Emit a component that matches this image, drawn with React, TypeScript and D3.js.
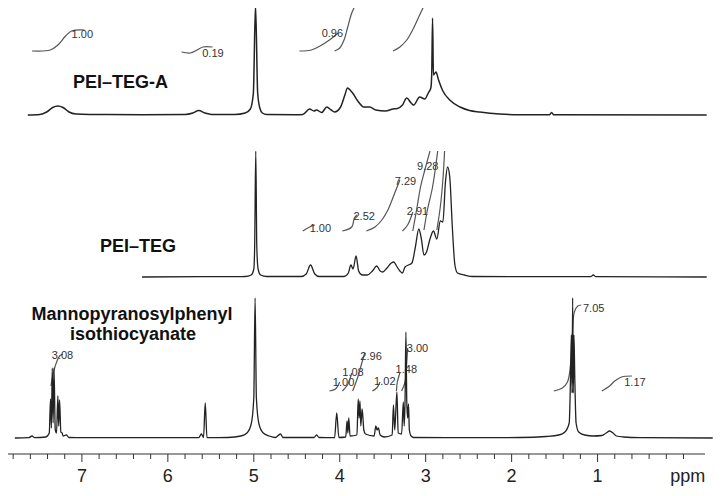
import React from 'react';
import * as d3 from 'd3';

// chemical shift axis
const MAJOR_TICKS = [7, 6, 5, 4, 3, 2, 1];
const MINOR_TICKS = d3.range(0, 40).map(i => +(i * 0.2).toFixed(1));

// spectra: [ppm, intensity above baseline]
const TEG_A_SPECTRUM: [number, number][] = [
  [7.63, 0], [7.49, 0.5], [7.41, 3], [7.34, 7.5], [7.28, 9], [7.22, 7.5], [7.15, 3], [7.07, 1], [6.91, 0.5],
  [6.3, 0.3], [5.8, 0.5], [5.71, 2], [5.64, 4.5], [5.57, 2], [5.49, 0.5], [5.22, 0.5], [5.1, 2], [5.04, 6],
  [5.005, 22], [4.98, 110], [4.955, 22], [4.93, 7], [4.9, 2], [4.85, 0.5], [4.5, 0.3],
  [4.43, 0.5], [4.35, 6], [4.3, 4], [4.27, 5], [4.21, 2.5], [4.15, 8], [4.1, 5], [4.06, 3], [3.99, 8],
  [3.94, 20], [3.91, 27], [3.87, 24], [3.85, 22], [3.79, 14], [3.72, 8], [3.65, 8], [3.58, 5], [3.47, 4],
  [3.38, 6], [3.33, 6.5], [3.27, 10], [3.22, 17], [3.17, 12], [3.14, 10], [3.07, 18], [3.01, 16], [2.97, 22],
  [2.94, 27], [2.93, 40], [2.92, 97], [2.91, 40], [2.88, 43], [2.85, 35], [2.8, 24], [2.72, 15], [2.6, 8],
  [2.49, 4.5], [2.37, 3], [2.14, 1], [1.91, 0.3], [1.56, 0.2], [1.535, 2.5], [1.51, 0.2], [-0.27, 0]
];

const TEG_SPECTRUM: [number, number][] = [
  [6.3, 0], [5.6, 0.3], [5.1, 0.5], [5.03, 2], [5.0, 8], [4.99, 30], [4.977, 126], [4.965, 30], [4.95, 8],
  [4.92, 2], [4.85, 0.5], [4.45, 0.5], [4.39, 3], [4.34, 12], [4.29, 3], [4.24, 0.5], [3.95, 0.5], [3.9, 4],
  [3.87, 12], [3.845, 8], [3.81, 21], [3.78, 6], [3.74, 2], [3.68, 2], [3.62, 6], [3.57, 11], [3.53, 6],
  [3.5, 5], [3.45, 9], [3.4, 14], [3.37, 15], [3.34, 11], [3.3, 6], [3.27, 4], [3.24, 10], [3.2, 12],
  [3.16, 14], [3.12, 30], [3.08, 48], [3.05, 38], [3.02, 22], [2.99, 25], [2.95, 38], [2.91, 46], [2.87, 38],
  [2.83, 56], [2.8, 55], [2.77, 95], [2.745, 110], [2.72, 100], [2.69, 50], [2.66, 12], [2.63, 4],
  [2.55, 2], [2.45, 0.5], [1.08, 0.3], [1.05, 2], [1.02, 0.3], [-0.27, 0]
];

const MANNO_SPECTRUM: [number, number][] = [
  [7.78, 0], [7.62, 0.3], [7.58, 2], [7.55, 0.3], [7.42, 1], [7.38, 5], [7.365, 39], [7.355, 10], [7.345, 70],
  [7.335, 15], [7.325, 70], [7.31, 8], [7.295, 5], [7.28, 42], [7.27, 12], [7.26, 38], [7.245, 6], [7.23, 5],
  [7.22, 2], [7.18, 3], [7.15, 0.5], [7.0, 0.3], [5.64, 0.3], [5.61, 4], [5.585, 0.5], [5.565, 35], [5.545, 0.3],
  [5.3, 0.5], [5.15, 2], [5.08, 5], [5.03, 14], [5.0, 40], [4.985, 140], [4.97, 40], [4.94, 14], [4.89, 5],
  [4.82, 2], [4.75, 0.5], [4.69, 4], [4.66, 0.5], [4.3, 0.5], [4.27, 3], [4.24, 0.5], [4.06, 0.3], [4.035, 25],
  [4.01, 0.5], [3.93, 1], [3.915, 17], [3.905, 5], [3.895, 20], [3.88, 2], [3.8, 3], [3.785, 39], [3.775, 20],
  [3.765, 37], [3.755, 12], [3.74, 29], [3.73, 20], [3.72, 8], [3.7, 4], [3.6, 2], [3.58, 12], [3.565, 8],
  [3.55, 10], [3.53, 3], [3.48, 1], [3.39, 3], [3.375, 33], [3.36, 8], [3.335, 46], [3.32, 5], [3.28, 4],
  [3.26, 36], [3.25, 12], [3.24, 38], [3.23, 106], [3.22, 36], [3.21, 20], [3.2, 34], [3.19, 8], [3.17, 2],
  [3.14, 0.5], [2.5, 0.3], [1.9, 0.5], [1.6, 1.5], [1.45, 3], [1.38, 6], [1.33, 15], [1.315, 60], [1.305, 103],
  [1.297, 45], [1.29, 140], [1.283, 45], [1.275, 103], [1.265, 60], [1.25, 15], [1.22, 6], [1.15, 3],
  [1.05, 2], [0.95, 2.5], [0.9, 5], [0.86, 7], [0.82, 5], [0.78, 2], [0.7, 1], [0.5, 0.3], [-0.34, 0]
];

// integral traces: label, curve points [ppm, intensity], label anchor [ppm, intensity]
type Integral = { label: string; pts: [number, number][]; at: [number, number] };

const TEG_A_INTEGRALS: Integral[] = [
  { label: '1.00', pts: [[7.58, 64], [7.37, 65], [7.28, 70], [7.19, 79], [7.12, 84], [6.97, 85]], at: [7.12, 77] },
  { label: '0.19', pts: [[5.84, 63], [5.74, 62], [5.66, 65], [5.59, 68], [5.48, 68]], at: [5.6, 58] },
  { label: '0.96', pts: [[4.47, 64], [4.33, 65], [4.23, 69], [4.12, 75], [4.02, 82]], at: [4.21, 78] },
  { label: '', pts: [[4.06, 64], [4.0, 67], [3.95, 75], [3.91, 87], [3.86, 102], [3.8, 113]], at: [0, 0] },
  { label: '', pts: [[3.38, 64], [3.3, 68], [3.22, 75], [3.14, 87], [3.07, 100], [3.0, 113]], at: [0, 0] }
];

const TEG_INTEGRALS: Integral[] = [
  { label: '1.00', pts: [[4.43, 46], [4.35, 50], [4.29, 52]], at: [4.35, 45] },
  { label: '2.52', pts: [[3.97, 46], [3.86, 50], [3.83, 59], [3.8, 62]], at: [3.84, 57] },
  { label: '7.29', pts: [[3.69, 46], [3.59, 50], [3.51, 57], [3.44, 67], [3.36, 84], [3.3, 97]], at: [3.36, 92] },
  { label: '2.91', pts: [[3.27, 46], [3.21, 52], [3.15, 65]], at: [3.22, 62] },
  { label: '9.28', pts: [[3.15, 46], [3.1, 70], [3.06, 90], [3.01, 107], [2.95, 126]], at: [3.1, 107] },
  { label: '', pts: [[3.02, 47], [2.98, 67], [2.92, 90], [2.86, 126]], at: [0, 0] },
  { label: '', pts: [[2.87, 47], [2.83, 70], [2.8, 97], [2.78, 126]], at: [0, 0] }
];

const MANNO_INTEGRALS: Integral[] = [
  { label: '3.08', pts: [[7.36, 52], [7.33, 66], [7.29, 77], [7.26, 82], [7.22, 84]], at: [7.35, 79] },
  { label: '1.00', pts: [[4.12, 47], [4.05, 49], [4.0, 56]], at: [4.08, 52] },
  { label: '1.08', pts: [[3.97, 47], [3.91, 53], [3.86, 65]], at: [3.97, 62] },
  { label: '2.96', pts: [[3.85, 47], [3.79, 61], [3.74, 76], [3.71, 85]], at: [3.76, 78] },
  { label: '1.02', pts: [[3.62, 47], [3.57, 50], [3.53, 56]], at: [3.6, 53] },
  { label: '1.48', pts: [[3.34, 47], [3.33, 56], [3.3, 65]], at: [3.35, 65] },
  { label: '3.00', pts: [[3.28, 47], [3.24, 56], [3.22, 76], [3.21, 90]], at: [3.22, 86] },
  { label: '7.05', pts: [[1.51, 47], [1.41, 50], [1.35, 56], [1.31, 78], [1.29, 108], [1.27, 126], [1.23, 132], [1.19, 133]], at: [1.17, 126] },
  { label: '1.17', pts: [[0.95, 47], [0.86, 52], [0.8, 57], [0.72, 61], [0.6, 62]], at: [0.69, 52] }
];

const FONT = "'Liberation Sans', Arial, Helvetica, sans-serif";

const App = () => {
  const width = 724;
  const height = 496;
  const x = d3.scaleLinear().domain([7.86, -0.25]).range([8, 705]);
  const axisY = 454;

  const panels = [
    { id: 'a', data: TEG_A_SPECTRUM, integrals: TEG_A_INTEGRALS, base: 115, top: 8, sw: 1.5 },
    { id: 'b', data: TEG_SPECTRUM, integrals: TEG_INTEGRALS, base: 277, top: 151, sw: 1.3 },
    { id: 'c', data: MANNO_SPECTRUM, integrals: MANNO_INTEGRALS, base: 438, top: 290, sw: 1.3 }
  ];

  return (
    <svg width={width} height={height} style={{ position: 'absolute', left: 0, top: 0, background: '#fff' }}
      fontFamily={FONT}>
      <defs>
        {panels.map(p => (
          <clipPath id={`clip-${p.id}`} key={p.id}>
            <rect x={0} y={p.top} width={width} height={p.base - p.top + 6} />
          </clipPath>
        ))}
      </defs>

      {panels.map(p => {
        const y = d3.scaleLinear().domain([0, 100]).range([p.base, p.base - 100]);
        const line = d3.line<[number, number]>()
          .x(d => x(d[0]))
          .y(d => y(d[1]))
          .curve(d3.curveMonotoneX);
        const integ = d3.line<[number, number]>()
          .x(d => x(d[0]))
          .y(d => y(d[1]))
          .curve(d3.curveCatmullRom.alpha(0.5));
        return (
          <g key={p.id} clipPath={`url(#clip-${p.id})`}>
            {p.integrals.map((it, i) => (
              <g key={i}>
                <path d={integ(it.pts) || ''} fill="none" stroke="#555" strokeWidth={1.2} />
                {it.label && (
                  <text x={x(it.at[0])} y={y(it.at[1])} fontSize={11} fill="#333">{it.label}</text>
                )}
              </g>
            ))}
            <path d={line(p.data) || ''} fill="none" stroke="#222" strokeWidth={p.sw}
              strokeLinejoin="round" />
          </g>
        );
      })}

      {/* sample names */}
      <g fontWeight="bold" fontSize={18} fill="#111">
        <text x={73} y={88}>PEI–TEG-A</text>
        <text x={100} y={252}>PEI–TEG</text>
        <text x={132} y={320} textAnchor="middle">Mannopyranosylphenyl</text>
        <text x={133} y={340} textAnchor="middle">isothiocyanate</text>
      </g>

      {/* ppm axis */}
      <g>
        <line x1={x(7.86)} x2={x(-0.25)} y1={axisY} y2={axisY} stroke="#333" strokeWidth={1.2} />
        {MINOR_TICKS.map(t => (
          <line key={t} x1={x(t)} x2={x(t)} y1={axisY} y2={axisY + (MAJOR_TICKS.includes(t) ? 8 : 5)}
            stroke="#333" strokeWidth={1} />
        ))}
        {MAJOR_TICKS.map(t => (
          <text key={t} x={x(t)} y={482} textAnchor="middle" fontSize={18} fill="#222">{t}</text>
        ))}
        <text x={x(-0.05)} y={482} textAnchor="middle" fontSize={18} fill="#222">ppm</text>
      </g>
    </svg>
  );
};

export default App;
